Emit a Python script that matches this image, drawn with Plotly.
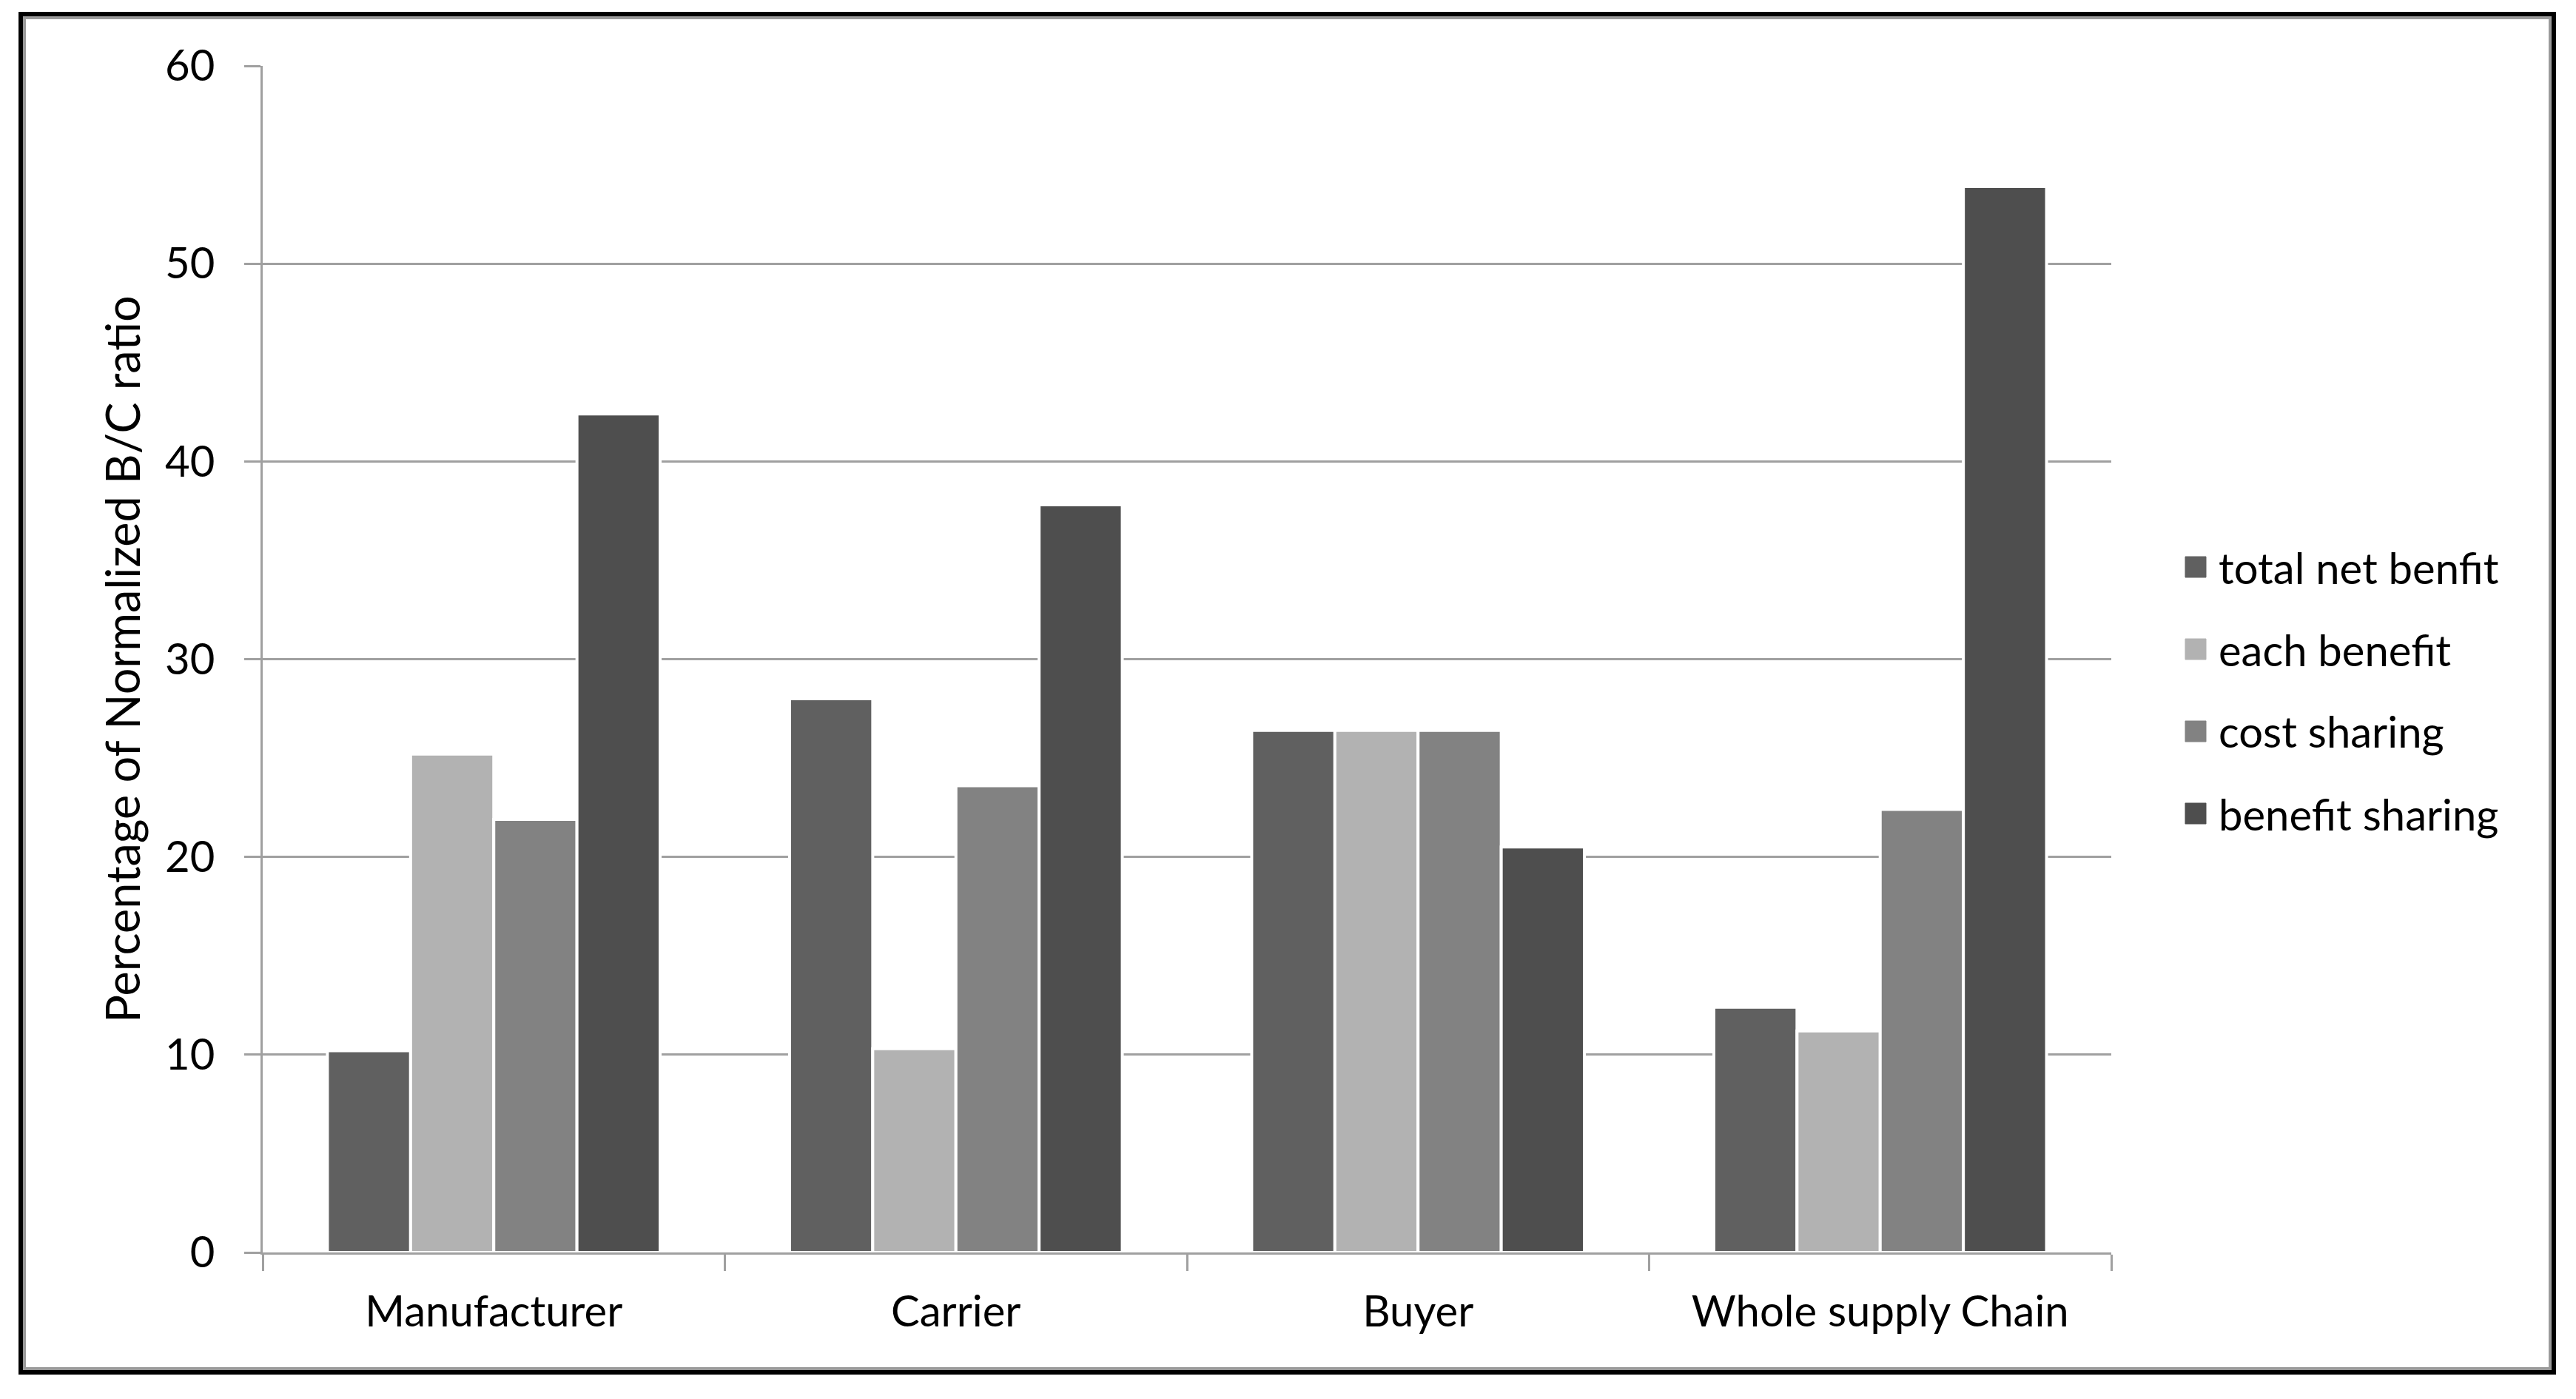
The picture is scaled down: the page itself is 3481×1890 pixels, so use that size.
import plotly.graph_objects as go

categories = ["Manufacturer", "Carrier", "Buyer", "Whole supply Chain"]
series_names = ["total net benfit", "each benefit", "cost sharing", "benefit sharing"]
total_net_benefit = [10.2, 28.0, 26.4, 12.4]
each_benefit = [25.2, 10.3, 26.4, 11.2]
cost_sharing = [21.9, 23.6, 26.4, 22.4]
benefit_sharing = [42.4, 37.8, 20.5, 53.9]
y_ticks = [0, 10, 20, 30, 40, 50, 60]

series_values = [total_net_benefit, each_benefit, cost_sharing, benefit_sharing]
colors = ["#606060", "#b2b2b2", "#828282", "#4e4e4e"]

OFF = 8  # default page body margin
W, H = 3481, 1890
ML, MR, MT, MB = 355 - OFF, 628 + OFF, 89 - OFF, 198 + OFF
PW = W - ML - MR
PH = H - MT - MB
FONT = "Lato, Open Sans, Noto Sans, sans-serif"
FS = 58
FS_TITLE = 63


def px(x):
    return (x - OFF - ML) / PW


def py(y):
    return (H - MB - (y - OFF)) / PH


fig = go.Figure()
for name, vals, col in zip(series_names, series_values, colors):
    fig.add_trace(go.Bar(
        x=categories, y=vals, name=name,
        marker=dict(color=col, line=dict(color="white", width=4)),
        showlegend=False,
    ))

shapes = []
annotations = []
# outer frame: black outer, gray inner
shapes.append(dict(type="rect", xref="paper", yref="paper",
                   x0=px(28), x1=px(3451), y0=py(19), y1=py(1854),
                   line=dict(color="black", width=6), layer="above"))
shapes.append(dict(type="rect", xref="paper", yref="paper",
                   x0=px(33), x1=px(3446), y0=py(24), y1=py(1849),
                   line=dict(color="#9a9a9a", width=4), layer="above"))

# manual legend
row_y = [766, 877, 988, 1099]
for name, col, ry in zip(series_names, colors, row_y):
    shapes.append(dict(type="rect", xref="paper", yref="paper",
                       x0=px(2953), x1=px(2981), y0=py(ry - 14), y1=py(ry + 14),
                       fillcolor=col, line=dict(color=col, width=1)))
    annotations.append(dict(xref="paper", yref="paper", x=px(2996), y=py(ry),
                            text=name, showarrow=False, xanchor="left", yanchor="middle",
                            font=dict(family=FONT, size=FS, color="#000000")))

fig.update_layout(
    width=W, height=H,
    margin=dict(l=ML, r=MR, t=MT, b=MB),
    paper_bgcolor="white", plot_bgcolor="white",
    barmode="group", bargap=0.28, bargroupgap=0.0,
    font=dict(family=FONT, size=FS, color="#000000"),
    shapes=shapes, annotations=annotations,
    showlegend=False,
)
fig.update_xaxes(
    type="category", showgrid=False, showline=True, linecolor="#a0a0a0", linewidth=3,
    ticks="outside", tickson="boundaries", ticklen=22, tickwidth=3, tickcolor="#a0a0a0",
    ticklabelstandoff=27, tickfont=dict(family=FONT, size=FS, color="#000000"),
)
fig.update_yaxes(
    range=[0, 60], tickvals=y_ticks, ticktext=[str(v) for v in y_ticks],
    showgrid=True, gridcolor="#a0a0a0", gridwidth=3,
    showline=True, linecolor="#a0a0a0", linewidth=3,
    ticks="outside", ticklen=22, tickwidth=3, tickcolor="#a0a0a0",
    ticklabelstandoff=28, zeroline=False,
    tickfont=dict(family=FONT, size=FS, color="#000000"),
    title=dict(text="Percentage of Normalized B/C ratio", standoff=14,
               font=dict(family=FONT, size=FS_TITLE, color="#000000")),
)

fig.write_html("out.html")
